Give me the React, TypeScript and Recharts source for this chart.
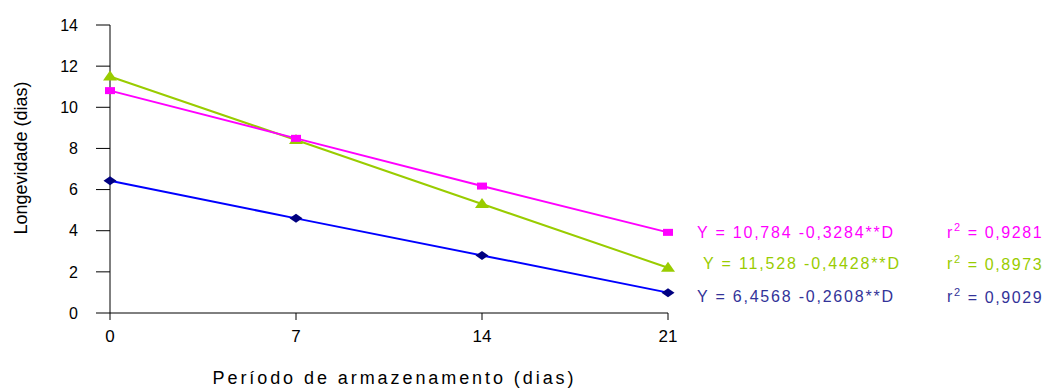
import { Label, LabelList, Line, LineChart, XAxis, YAxis } from 'recharts';

const dias = [0, 7, 14, 21];
const trat1 = [10.81, 8.49, 6.17, 3.92];
const trat2 = [11.5, 8.41, 5.3, 2.2];
const trat3 = [6.43, 4.6, 2.8, 0.99];
const xTicks = [0, 7, 14, 21];
const yTicks = [0, 2, 4, 6, 8, 10, 12, 14];

const equations = ['Y = 10,784 -0,3284**D', 'Y = 11,528 -0,4428**D', 'Y = 6,4568 -0,2608**D'];
const rValues = ['0,9281', '0,8973', '0,9029'];

const data = dias.map((d, i) => ({ d, a: trat1[i], b: trat2[i], c: trat3[i] }));

const SANS = '"Liberation Sans", Arial, sans-serif';

type DotProps = { cx?: number; cy?: number; index?: number };

function SquareDot({ cx = 0, cy = 0, index }: DotProps) {
    return <rect key={`s-${index}`} x={cx - 5} y={cy - 3.5} width={10} height={7} fill="#FF00FF" />;
}

function TriangleDot({ cx = 0, cy = 0, index }: DotProps) {
    return (
        <polygon
            key={`t-${index}`}
            points={`${cx},${cy - 6} ${cx + 7},${cy + 4} ${cx - 7},${cy + 4}`}
            fill="#99CC00"
        />
    );
}

function DiamondDot({ cx = 0, cy = 0, index }: DotProps) {
    return (
        <polygon
            key={`d-${index}`}
            points={`${cx},${cy - 4.5} ${cx + 6.5},${cy} ${cx},${cy + 4.5} ${cx - 6.5},${cy}`}
            fill="#000080"
        />
    );
}

function equationLabel(i: number, color: string, dx: number, dy: number) {
    return (props: any) => {
        if (props.index !== dias.length - 1) {
            return null;
        }
        const x = Number(props.x);
        const y = Number(props.y) + dy;
        return (
            <g fontFamily={SANS} fontSize={16} fill={color}>
                <text x={x + dx} y={y} dominantBaseline="central" textLength={196} lengthAdjust="spacing">
                    {equations[i]}
                </text>
                <text x={947} y={y} dominantBaseline="central" letterSpacing={1.6}>
                    r
                    <tspan fontSize={11} dy={-5}>
                        2
                    </tspan>
                    <tspan dy={5}> = {rValues[i]}</tspan>
                </text>
            </g>
        );
    };
}

function XTitle(props: any) {
    const vb = props.viewBox;
    const cx = vb.x + vb.width / 2 + 4;
    return (
        <text
            x={cx}
            y={vb.y + vb.height + 41}
            textAnchor="middle"
            fontFamily={SANS}
            fontSize={18}
            fill="#000"
            textLength={361}
            lengthAdjust="spacing"
        >
            Período de armazenamento (dias)
        </text>
    );
}

function YTitle(props: any) {
    const vb = props.viewBox;
    const cy = vb.y + vb.height / 2 - 11;
    const x = 27;
    return (
        <text
            x={x}
            y={cy}
            transform={`rotate(-90 ${x} ${cy})`}
            textAnchor="middle"
            fontFamily={SANS}
            fontSize={18}
            fill="#000"
        >
            Longevidade (dias)
        </text>
    );
}

export default function App() {
    return (
        <div style={{ width: 1046, height: 390 }}>
            <style>{'body{margin:0}'}</style>
            <LineChart
                width={1046}
                height={390}
                data={data}
                margin={{ top: 25, right: 378, bottom: 47, left: 50 }}
            >
                <XAxis
                    dataKey="d"
                    type="number"
                    domain={[0, 21]}
                    ticks={xTicks}
                    tickSize={7}
                    tickMargin={10}
                    height={30}
                    stroke="#000"
                    tick={{ fill: '#000', fontSize: 17, fontFamily: SANS }}
                >
                    <Label content={XTitle} />
                </XAxis>
                <YAxis
                    type="number"
                    domain={[0, 14]}
                    ticks={yTicks}
                    tickSize={14}
                    tickMargin={18}
                    width={60}
                    stroke="#000"
                    tick={{ fill: '#000', fontSize: 16, fontFamily: SANS }}
                >
                    <Label content={YTitle} />
                </YAxis>
                <Line
                    dataKey="c"
                    stroke="#0000FF"
                    strokeWidth={2}
                    dot={DiamondDot}
                    isAnimationActive={false}
                >
                    <LabelList content={equationLabel(2, '#333399', 29, 4)} />
                </Line>
                <Line
                    dataKey="b"
                    stroke="#99CC00"
                    strokeWidth={2}
                    dot={TriangleDot}
                    isAnimationActive={false}
                >
                    <LabelList content={equationLabel(1, '#99CC00', 35, -4)} />
                </Line>
                <Line
                    dataKey="a"
                    stroke="#FF00FF"
                    strokeWidth={2}
                    dot={SquareDot}
                    isAnimationActive={false}
                >
                    <LabelList content={equationLabel(0, '#FF00FF', 29, 0)} />
                </Line>
            </LineChart>
        </div>
    );
}
